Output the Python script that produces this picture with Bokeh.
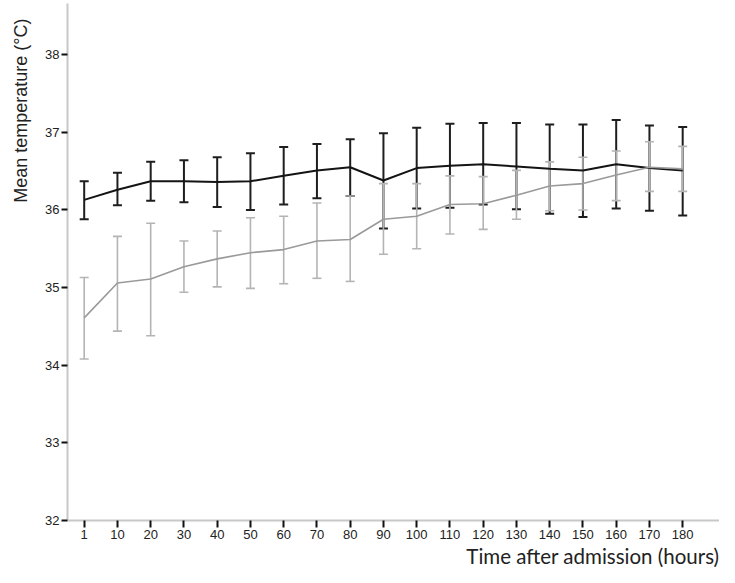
from bokeh.plotting import figure
from bokeh.models import Range1d, FixedTicker, Whisker, TeeHead, ColumnDataSource, Title
from bokeh.embed import file_html
from bokeh.resources import INLINE

hours = [1, 10, 20, 30, 40, 50, 60, 70, 80, 90, 100, 110, 120, 130, 140, 150, 160, 170, 180]
y_ticks = [32, 33, 34, 35, 36, 37, 38]

# black series
grpA_mean = [36.13, 36.26, 36.37, 36.37, 36.36, 36.37, 36.44, 36.51, 36.55, 36.38,
             36.54, 36.57, 36.59, 36.56, 36.53, 36.51, 36.59, 36.54, 36.51]
grpA_upper = [36.37, 36.48, 36.62, 36.64, 36.68, 36.73, 36.81, 36.85, 36.91, 36.99,
              37.06, 37.11, 37.12, 37.12, 37.10, 37.10, 37.16, 37.09, 37.07]
grpA_lower = [35.88, 36.06, 36.12, 36.10, 36.04, 36.00, 36.07, 36.15, 36.18, 35.76,
              36.02, 36.03, 36.07, 36.01, 35.95, 35.91, 36.02, 35.99, 35.93]

# grey series
grpB_mean = [34.61, 35.06, 35.11, 35.27, 35.37, 35.45, 35.49, 35.60, 35.62, 35.88,
             35.92, 36.07, 36.08, 36.19, 36.31, 36.34, 36.45, 36.55, 36.53]
grpB_upper = [35.13, 35.66, 35.83, 35.60, 35.73, 35.90, 35.92, 36.09, 36.18, 36.34,
              36.34, 36.44, 36.43, 36.51, 36.62, 36.68, 36.76, 36.88, 36.82]
grpB_lower = [34.08, 34.44, 34.38, 34.94, 35.01, 34.99, 35.05, 35.12, 35.08, 35.43,
              35.50, 35.69, 35.75, 35.88, 35.99, 36.00, 36.12, 36.24, 36.24]

idx = list(range(len(hours)))

p = figure(width=719, height=567, output_backend="svg", toolbar_location=None,
           x_range=Range1d(-0.502, 19.107), y_range=Range1d(32, 38.66),
           min_border_left=67, min_border_right=0, min_border_top=3, min_border_bottom=45)
p.outline_line_color = None
p.xgrid.visible = False
p.ygrid.visible = False

srcA = ColumnDataSource(dict(x=idx, m=grpA_mean, u=grpA_upper, l=grpA_lower))
srcB = ColumnDataSource(dict(x=idx, m=grpB_mean, u=grpB_upper, l=grpB_lower))

# black series
wa = Whisker(base="x", upper="u", lower="l", source=srcA, dimension="height",
             line_color="#1e1e1e", line_width=2,
             upper_head=TeeHead(size=9, line_color="#1e1e1e", line_width=2),
             lower_head=TeeHead(size=9, line_color="#1e1e1e", line_width=2))
p.add_layout(wa)
p.line("x", "m", source=srcA, line_color="#141414", line_width=2)

# grey series
wb = Whisker(base="x", upper="u", lower="l", source=srcB, dimension="height",
             line_color="#b4b4b4", line_width=1.6,
             upper_head=TeeHead(size=9, line_color="#b4b4b4", line_width=1.6),
             lower_head=TeeHead(size=9, line_color="#b4b4b4", line_width=1.6))
p.add_layout(wb)
p.line("x", "m", source=srcB, line_color="#9a9a9a", line_width=1.6)

# axes
for ax in (p.xaxis[0], p.yaxis[0]):
    ax.axis_line_color = "#c8c8c8"
    ax.axis_line_width = 2
    ax.major_tick_line_color = "#111111"
    ax.major_tick_line_width = 2
    ax.major_tick_in = 0
    ax.minor_tick_line_color = None
    ax.major_label_text_font = "Liberation Sans"
    ax.major_label_text_font_size = "13px"
    ax.major_label_text_color = "#222222"

p.yaxis.ticker = FixedTicker(ticks=y_ticks)
p.yaxis.major_tick_out = 6
p.yaxis.major_label_standoff = 2

p.xaxis.ticker = FixedTicker(ticks=idx)
p.xaxis.major_label_overrides = {i: str(h) for i, h in zip(idx, hours)}
p.xaxis.major_tick_out = 7
p.xaxis.major_label_standoff = 2

ytitle = Title(text="Mean temperature (°C)", align="right", offset=15, standoff=20,
               vertical_align="top",
               text_font="Liberation Sans", text_font_size="18px",
               text_font_style="normal", text_color="#222222")
p.add_layout(ytitle, "left")

xtitle = Title(text="Time after admission (hours)", align="right", standoff=0,
               text_font="Lato", text_font_size="20.5px",
               text_font_style="normal", text_color="#222222")
p.add_layout(xtitle, "below")

open("out.html", "w").write(file_html(p, INLINE))
